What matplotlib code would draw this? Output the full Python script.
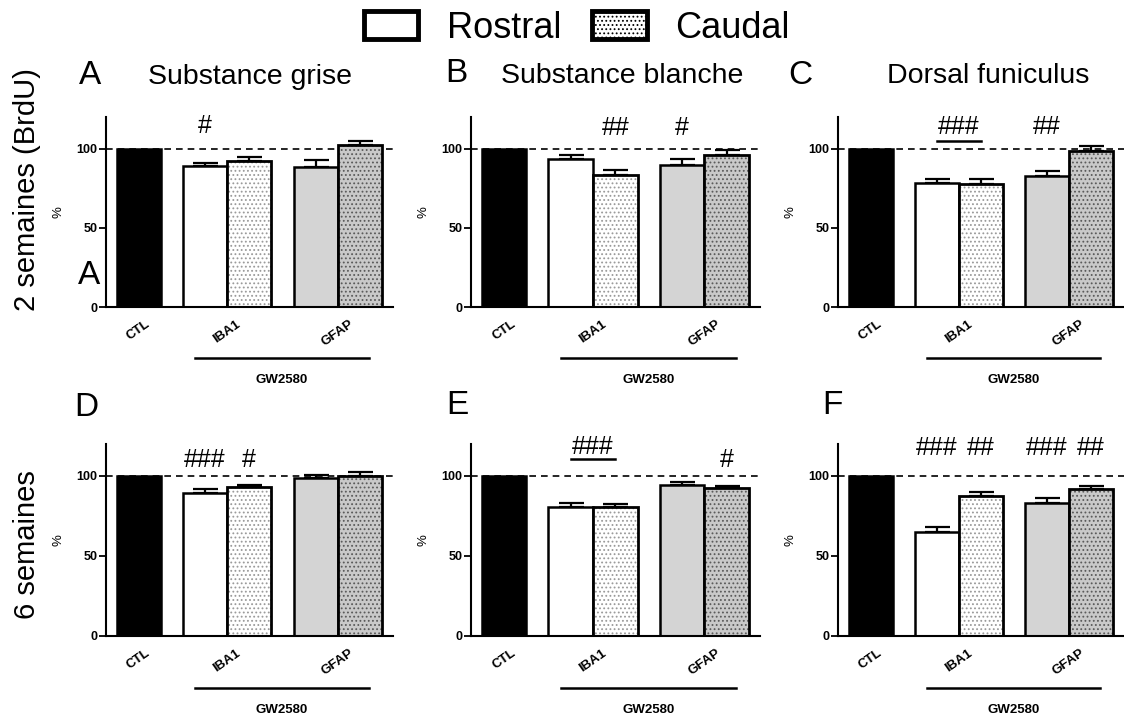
import matplotlib
matplotlib.use("Agg")
import matplotlib.pyplot as plt
from matplotlib.patches import Patch
from matplotlib.transforms import blended_transform_factory

plt.rcParams["font.family"] = ["Liberation Sans", "DejaVu Sans"]
plt.rcParams["hatch.linewidth"] = 0.8

# ---- data -------------------------------------------------------------
panel_letters = ["A", "B", "C", "D", "E", "F"]
panel_titles = ["Substance grise", "Substance blanche", "Dorsal funiculus", "", "", ""]
row_labels = ["2 semaines (BrdU)", "6 semaines"]
group_labels = ["CTL", "IBA1", "GFAP"]
treatment_label = "GW2580"
series_labels = ["Rostral", "Caudal"]

ctl_value = 100
# [IBA1, GFAP] per panel A..F
rostral_mean = [[89.3, 88.7], [93.3, 89.8], [78.1, 82.7],
                [89.2, 98.5], [80.4, 94.4], [65.2, 83.3]]
rostral_sem = [[1.8, 4.3], [3.0, 3.8], [2.9, 3.1],
               [2.5, 2.1], [2.9, 2.1], [2.8, 2.7]]
caudal_mean = [[92.0, 102.3], [83.5, 96.2], [77.8, 98.3],
               [92.9, 99.8], [80.4, 92.3], [87.5, 91.7]]
caudal_sem = [[2.5, 2.7], [3.1, 2.8], [3.0, 3.1],
              [1.5, 2.9], [1.9, 1.6], [2.5, 2.2]]

# significance marks: (text, x, y, underline span or None)
sig_marks = [
    [("#", 1.5, 114.5, None)],
    [("##", 2.5, 113, None), ("#", 4.0, 113, None)],
    [("###", 2.0, 114, (1.5, 2.5, 105)), ("##", 4.0, 114, None)],
    [("###", 1.5, 110, None), ("#", 2.5, 110, None)],
    [("###", 2.0, 118, (1.5, 2.5, 110.5)), ("#", 5.0, 110, None)],
    [("###", 1.5, 117.5, None), ("##", 2.5, 117.5, None),
     ("###", 4.0, 117.5, None), ("##", 5.0, 117.5, None)],
]

# ---- layout -----------------------------------------------------------
W, H = 1124, 716
fig = plt.figure(figsize=(W / 100, H / 100), dpi=100)

col_left = [106, 471, 838]
col_right = [393, 760, 1124]
row_top = [117, 444]
row_bottom = [307, 636]

x_ctl = 0.0
x_rostral = [1.5, 4.0]
x_caudal = [2.5, 5.0]
tick_pos = [0.0, 2.0, 4.5]
bar_w = 1.0

rostral_face = ["white", "#d4d4d4"]
caudal_face = ["white", "#c9c9c9"]
caudal_hatch_col = ["#9a9a9a", "#5a5a5a"]

EDGE_LW = 1.8

for i in range(6):
    r, c = divmod(i, 3)
    l, rt = col_left[c], col_right[c]
    t, b = row_top[r], row_bottom[r]
    ax = fig.add_axes([l / W, 1 - b / H, (rt - l) / W, (b - t) / H])
    ax.set_xlim(-0.74, 5.75)
    ax.set_ylim(0, 120)

    ax.axhline(100, color="black", lw=1.2, ls=(0, (4, 3)), zorder=0.5)

    # control bar
    ax.bar(x_ctl, ctl_value, width=bar_w, color="black", edgecolor="black",
           lw=EDGE_LW, zorder=2)

    # rostral bars
    ax.bar(x_rostral, rostral_mean[i], width=bar_w, color=rostral_face,
           edgecolor="black", lw=EDGE_LW, zorder=2)
    ax.errorbar(x_rostral, rostral_mean[i],
                yerr=[[0, 0], rostral_sem[i]], fmt="none", ecolor="black",
                elinewidth=1.6, capsize=9, capthick=1.6, zorder=1.5)

    # caudal bars: stippled fill, then outline
    for k in range(2):
        ax.bar(x_caudal[k], caudal_mean[i][k], width=bar_w,
               color=caudal_face[k], edgecolor=caudal_hatch_col[k], lw=0,
               hatch="....", zorder=2)
    ax.bar(x_caudal, caudal_mean[i], width=bar_w, fill=False,
           edgecolor="black", lw=EDGE_LW + 0.2, zorder=2.1)
    ax.errorbar(x_caudal, caudal_mean[i],
                yerr=[[0, 0], caudal_sem[i]], fmt="none", ecolor="black",
                elinewidth=1.6, capsize=9, capthick=1.6, zorder=1.5)

    # axes styling
    for s in ["top", "right"]:
        ax.spines[s].set_visible(False)
    ax.spines["left"].set_linewidth(1.5)
    ax.spines["bottom"].set_linewidth(1.5)
    ax.set_yticks([0, 50, 100])
    ax.set_yticklabels(["0", "50", "100"], fontsize=9, fontweight="bold")
    ax.tick_params(axis="y", length=5, width=1.3, pad=1)
    ax.set_xticks(tick_pos)
    ax.set_xticklabels(group_labels, rotation=35, ha="center", va="top",
                       fontsize=9.5, fontweight="bold")
    ax.tick_params(axis="x", length=0, pad=8)
    ax.set_ylabel("%", fontsize=9.5, labelpad=9)

    # treatment bracket under IBA1 / GFAP
    tr = blended_transform_factory(ax.transData, ax.transAxes)
    ax.plot([1.28, 5.2], [-51 / 190, -51 / 190], color="black", lw=1.8,
            transform=tr, clip_on=False)
    ax.text(3.24, -73 / 190, treatment_label, transform=tr, ha="center",
            va="center", fontsize=9.5, fontweight="bold")

    # significance marks
    for txt, x, y, under in sig_marks[i]:
        ax.text(x, y, txt, ha="center", va="center", fontsize=18)
        if under is not None:
            ax.plot([under[0], under[1]], [under[2], under[2]], color="black",
                    lw=1.8, clip_on=False)

# panel letters and titles
letter_xy = [(90, 76), (456, 73), (800, 75), (86, 408), (457, 405), (832, 405)]
title_xy = [(250, 77), (622, 76), (988, 76)]
for i in range(6):
    x, y = letter_xy[i]
    fig.text(x / W, 1 - y / H, panel_letters[i], fontsize=24, ha="center",
             va="center")
for i in range(3):
    x, y = title_xy[i]
    fig.text(x / W, 1 - y / H, panel_titles[i], fontsize=20.5, ha="center",
             va="center")
# repeated letter inside panel A
fig.text(89 / W, 1 - 276 / H, panel_letters[0], fontsize=24, ha="center",
         va="center")

# row labels
fig.text(27 / W, 1 - 190 / H, row_labels[0], rotation=90, fontsize=21,
         ha="center", va="center")
fig.text(27 / W, 1 - 545 / H, row_labels[1], rotation=90, fontsize=21,
         ha="center", va="center")

# legend
handles = [
    Patch(facecolor="white", edgecolor="black", lw=3.5, label=series_labels[0]),
    Patch(facecolor="white", edgecolor="black", lw=3.5, hatch="....",
          label=series_labels[1]),
]
fig.legend(handles=handles, loc="center", bbox_to_anchor=(577 / W, 1 - 28 / H),
           ncol=2, frameon=False, fontsize=26, handlelength=1.5,
           handleheight=0.8, handletextpad=0.8, columnspacing=0.85,
           borderpad=0, borderaxespad=0)

fig.savefig("out.png", dpi=100)
